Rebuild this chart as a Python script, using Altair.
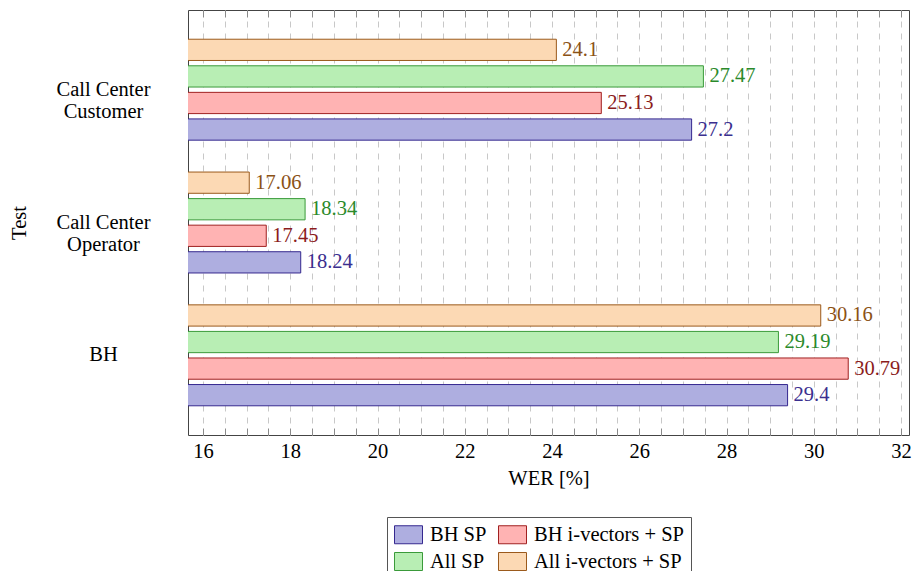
import altair as alt
import pandas as pd

FONT = "Liberation Serif"
FS = 20.5

tests = ["Call Center|Customer", "Call Center|Operator", "BH"]
series = ["BH SP", "BH i-vectors + SP", "All SP", "All i-vectors + SP"]
order_top_down = ["All i-vectors + SP", "All SP", "BH i-vectors + SP", "BH SP"]

bh_sp = [27.2, 18.24, 29.4]
bh_ivec_sp = [25.13, 17.45, 30.79]
all_sp = [27.47, 18.34, 29.19]
all_ivec_sp = [24.1, 17.06, 30.16]

x_ticks = [16, 16.5, 17, 17.5, 18, 18.5, 19, 19.5, 20, 20.5, 21, 21.5, 22, 22.5,
           23, 23.5, 24, 24.5, 25, 25.5, 26, 26.5, 27, 27.5, 28, 28.5, 29, 29.5,
           30, 30.5, 31, 31.5, 32]
x_domain = [15.656, 32.183]

fill_colors = ["#aeaee0", "#ffb3b3", "#b8eeb4", "#fcd9b4"]
stroke_colors = ["#35288f", "#a02020", "#3a9a3a", "#9b5a1c"]
text_colors = ["#3b2f8f", "#8b1c1c", "#2b8a2b", "#8b5216"]

rows = []
for name, vals in zip(series, [bh_sp, bh_ivec_sp, all_sp, all_ivec_sp]):
    for t, v in zip(tests, vals):
        rows.append({"test": t, "series": name, "wer": v, "lab": str(v)})
df = pd.DataFrame(rows)

PLOT_W, PLOT_H = 721, 425
# legend swatch: 28 x 18 px drawn inside a 20 px layout box
RECT = "M-1.4,-0.9L1.4,-0.9L1.4,0.9L-1.4,0.9Z"

xscale = alt.Scale(domain=x_domain, zero=False, nice=False)
y_enc = alt.Y(
    "test:N", sort=tests, title="Test",
    scale=alt.Scale(paddingInner=0.2, paddingOuter=0.2),
    axis=alt.Axis(labelExpr="split(datum.label, '|')", labelAlign="center",
                  labelBaseline="middle", labelPadding=85, ticks=False, tickSize=0,
                  domain=False, titleX=-169, titleY=PLOT_H / 2, titleAngle=-90,
                  titleBaseline="middle", titleAlign="center", labelLineHeight=22),
)
yoff = alt.YOffset("series:N", sort=order_top_down,
                   scale=alt.Scale(paddingInner=0.2, paddingOuter=0.1))

leg = alt.Legend(title=None, orient="none", legendX=199, legendY=507,
                 direction="horizontal", columns=2, symbolType=RECT,
                 symbolSize=400, symbolStrokeWidth=1, symbolOffset=4,
                 labelFont=FONT, labelFontSize=FS, labelColor="black",
                 strokeColor="#555", fillColor="white", padding=7,
                 columnPadding=9, rowPadding=4, labelOffset=11)

bars = alt.Chart(df).mark_bar(clip=True, strokeWidth=1).encode(
    x=alt.X("wer:Q", scale=xscale, title="WER [%]",
            axis=alt.Axis(orient="bottom", values=x_ticks,
                          labelExpr="datum.value % 2 == 0 ? format(datum.value, 'd') : ''",
                          labelOverlap=False, labelFlush=False, grid=True,
                          gridDash=[6, 6], gridColor="#c8c8c8", ticks=False,
                          domain=False, labelPadding=6, titlePadding=7)),
    y=y_enc,
    yOffset=yoff,
    fill=alt.Fill("series:N", scale=alt.Scale(domain=series, range=fill_colors), legend=leg),
    stroke=alt.Stroke("series:N", scale=alt.Scale(domain=series, range=stroke_colors), legend=leg),
)

labels = alt.Chart(df).mark_text(align="left", baseline="middle", dx=6,
                                 font=FONT, fontSize=FS).encode(
    x=alt.X("wer:Q", scale=xscale, title=None,
            axis=alt.Axis(orient="top", offset=-PLOT_H, values=x_ticks, labels=False,
                          grid=False, domain=False, ticks=True, tickSize=7,
                          tickColor="#8a8a8a")),
    y=y_enc,
    yOffset=yoff,
    text=alt.Text("lab:N"),
    color=alt.Color("series:N", scale=alt.Scale(domain=series, range=text_colors), legend=None),
)

top_ticks = alt.Chart(df).mark_text(opacity=0, fontSize=FS).encode(
    x=alt.X("wer:Q", scale=xscale, title=None,
            axis=alt.Axis(orient="bottom", offset=-PLOT_H, values=x_ticks, labels=False,
                          grid=False, domain=False, ticks=True, tickSize=7,
                          tickColor="#8a8a8a")),
    y=y_enc,
    yOffset=yoff,
    text=alt.Text("lab:N"),
)

chart = (
    alt.layer(bars, labels, top_ticks)
    .resolve_axis(x="independent")
    .properties(width=PLOT_W, height=PLOT_H,
                autosize=alt.AutoSizeParams(type="none"),
                padding={"left": 180, "top": 2, "right": 3, "bottom": 136})
    .configure(font=FONT)
    .configure_axis(labelFont=FONT, titleFont=FONT, labelFontSize=FS, titleFontSize=FS,
                    labelColor="black", titleColor="black", titleFontWeight="normal")
    .configure_view(stroke="#444", strokeWidth=1)
)

chart.save("out.html", embed_options={"renderer": "svg", "actions": False})
